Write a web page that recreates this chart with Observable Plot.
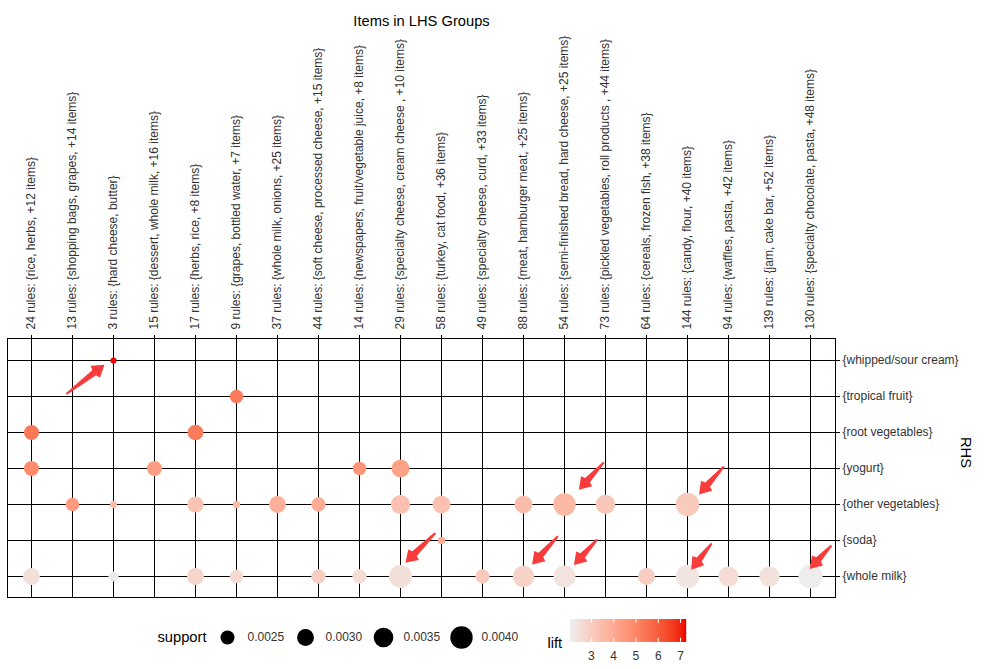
<!DOCTYPE html>
<html>
<head>
<meta charset="utf-8">
<script src="https://cdn.jsdelivr.net/npm/d3@7"></script>
<script src="https://cdn.jsdelivr.net/npm/@observablehq/plot@0.6"></script>
<style>
  body { margin: 0; background: white; }
  #wrap { position: relative; width: 986px; height: 669px; background: white; font-family: "Liberation Sans", Arial, sans-serif; }
  #main, #sizeLeg, #colLeg { position: absolute; }
  #main { left: 0; top: 0; }
  #sizeLeg { left: 0; top: 610px; }
  #colLeg { left: 540px; top: 610px; }
  svg { font-family: "Liberation Sans", Arial, sans-serif; }
</style>
</head>
<body>
<div id="wrap">
  <div id="main"></div>
  <div id="sizeLeg"></div>
  <div id="colLeg"></div>
</div>
<script>
// ---- data ----
const lhsGroups = [
  "24 rules: {rice, herbs, +12 items}",
  "13 rules: {shopping bags, grapes, +14 items}",
  "3 rules: {hard cheese, butter}",
  "15 rules: {dessert, whole milk, +16 items}",
  "17 rules: {herbs, rice, +8 items}",
  "9 rules: {grapes, bottled water, +7 items}",
  "37 rules: {whole milk, onions, +25 items}",
  "44 rules: {soft cheese, processed cheese, +15 items}",
  "14 rules: {newspapers, fruit/vegetable juice, +8 items}",
  "29 rules: {specialty cheese, cream cheese , +10 items}",
  "58 rules: {turkey, cat food, +36 items}",
  "49 rules: {specialty cheese, curd, +33 items}",
  "88 rules: {meat, hamburger meat, +25 items}",
  "54 rules: {semi-finished bread, hard cheese, +25 items}",
  "73 rules: {pickled vegetables, roll products , +44 items}",
  "64 rules: {cereals, frozen fish, +38 items}",
  "144 rules: {candy, flour, +40 items}",
  "94 rules: {waffles, pasta, +42 items}",
  "139 rules: {jam, cake bar, +52 items}",
  "130 rules: {specialty chocolate, pasta, +48 items}"
];
const rhsItems = [
  "{whipped/sour cream}",
  "{tropical fruit}",
  "{root vegetables}",
  "{yogurt}",
  "{other vegetables}",
  "{soda}",
  "{whole milk}"
];
// one entry per drawn dot: LHS group index, RHS item index, support, lift
const ptLhs = [2, 5, 0, 4, 0, 3, 8, 9, 1, 2, 4, 5, 6, 7, 9, 10, 12, 13, 14, 16, 10, 0, 2, 4, 5, 7, 8, 9, 11, 12, 13, 15, 16, 17, 18, 19];
const ptRhs = [0, 1, 2, 2, 3, 3, 3, 3, 4, 4, 4, 4, 4, 4, 4, 4, 4, 4, 4, 4, 5, 6, 6, 6, 6, 6, 6, 6, 6, 6, 6, 6, 6, 6, 6, 6];
const ptSupport = [0.0011, 0.0024, 0.0027, 0.0028, 0.0027, 0.0027, 0.0024, 0.0032,
  0.0024, 0.00125, 0.0029, 0.0013, 0.0030, 0.00255, 0.0034, 0.0032, 0.0032, 0.0040, 0.00345, 0.0042,
  0.0013,
  0.0030, 0.0018, 0.0030, 0.0024, 0.00255, 0.00255, 0.0041, 0.00255, 0.0038, 0.0039, 0.0030, 0.0042, 0.0036, 0.0036, 0.0043];
const ptLift = [7.22, 5.3, 5.4, 5.3, 4.9, 4.4, 4.6, 4.3,
  4.5, 3.6, 3.3, 3.6, 3.9, 4.0, 3.4, 3.4, 3.5, 3.6, 3.2, 3.1,
  4.0,
  2.5, 2.15, 2.8, 2.7, 3.0, 2.6, 2.5, 3.1, 2.9, 2.4, 3.0, 2.35, 2.6, 2.45, 2.1];
// highlight arrows (tail -> tip) in grid units (LHS index, RHS index)
const arrowX1 = [0.85, 13.96, 16.89, 12.84, 13.80, 16.59, 19.51, 9.85];
const arrowY1 = [0.93, 2.83, 2.94, 4.88, 4.97, 5.08, 5.14, 4.79];
const arrowX2 = [1.78, 13.35, 16.28, 12.21, 13.23, 16.09, 18.98, 9.12];
const arrowY2 = [0.12, 3.59, 3.72, 5.67, 5.68, 5.81, 5.79, 5.62];
// legend breaks
const supportBreaks = [0.0025, 0.0030, 0.0035, 0.0040];
const liftBreaks = [3, 4, 5, 6, 7];
const liftDomain = [2.07, 7.22];

// ---- layout / style ----
const colStep = 41, rowStep = 36;            // px per grid unit
const xRange = [6.4, 6.4 + colStep * (lhsGroups.length + 0.2)];
const yRange = [338.4, 338.4 + rowStep * (rhsItems.length + 0.2)];

// ---- build tables ----
const points = ptLhs.map((c, i) => ({lhs: c, rhs: ptRhs[i], support: ptSupport[i], lift: ptLift[i]}));

// filled arrow outlines, built in pixel space around each tail->tip segment, expressed in grid units
const arrowPolys = [];
arrowX1.forEach((x1, k) => {
  const dx = (arrowX2[k] - x1) * colStep, dy = (arrowY2[k] - arrowY1[k]) * rowStep;
  const L = Math.hypot(dx, dy), ux = dx / L, uy = dy / L, nx = -uy, ny = ux;
  const head = 13, prof = [[0, 1], [L - head, 3.2], [L - head + 1.5, 7.5], [L, 0], [L - head + 1.5, -7.5], [L - head, -3.2], [0, -1]];
  prof.forEach(([a, w]) => arrowPolys.push({
    id: k,
    x: x1 + (a * ux + w * nx) / colStep,
    y: arrowY1[k] + (a * uy + w * ny) / rowStep
  }));
});

const colorScale = {type: "linear", domain: liftDomain, range: ["#EEEEEE", "#EE0000"], interpolate: "lab"};
const rScale = {type: "linear", domain: [0, 0.004], range: [0, 11.2]};
const textCol = "#333333";

const main = Plot.plot({
  width: 986,
  height: 610,
  marginLeft: 7,
  marginRight: 151,
  marginTop: 338,
  marginBottom: 13,
  style: {fontFamily: "Liberation Sans, Arial, sans-serif", fontSize: "12px", background: "white"},
  x: {type: "linear", domain: [-0.6, lhsGroups.length - 0.4], range: xRange},
  y: {type: "linear", domain: [-0.6, rhsItems.length - 0.4], range: yRange},
  r: rScale,
  color: colorScale,
  marks: [
    Plot.gridX(d3.range(lhsGroups.length), {stroke: "black", strokeOpacity: 1, strokeWidth: 1}),
    Plot.gridY(d3.range(rhsItems.length), {stroke: "black", strokeOpacity: 1, strokeWidth: 1}),
    Plot.frame({stroke: "black", strokeWidth: 1}),
    Plot.axisX(d3.range(lhsGroups.length), {anchor: "top", tickFormat: i => lhsGroups[i], tickRotate: -90, tickSize: 4, tickPadding: 5, fontSize: 12, fill: textCol, label: null}),
    Plot.axisY(d3.range(rhsItems.length), {anchor: "right", tickFormat: i => rhsItems[i], tickSize: 4, tickPadding: 3, fontSize: 12, fill: textCol, label: null}),
    Plot.dot(points, {x: "lhs", y: "rhs", r: "support", fill: "lift", stroke: "none"}),
    Plot.line(arrowPolys, {x: "x", y: "y", z: "id", fill: "#F83C3C", stroke: "none", curve: "linear-closed"}),
    Plot.text(["Items in LHS Groups"], {frameAnchor: "top", dy: -323, fontSize: 14.7, fill: "black"}),
    Plot.text(["RHS"], {frameAnchor: "right", dx: 130, rotate: 90, fontSize: 14.7, fill: "black"})
  ]
});
document.getElementById("main").appendChild(main);

const sizeLeg = Plot.plot({
  width: 530,
  height: 54,
  margin: 0,
  style: {fontFamily: "Liberation Sans, Arial, sans-serif", background: "transparent"},
  x: {type: "point", domain: supportBreaks, range: [226, 461], padding: 0, axis: null},
  r: rScale,
  marks: [
    Plot.dot(supportBreaks, {x: d => d, r: d => d, fill: "black", stroke: "none", frameAnchor: "middle"}),
    Plot.text(supportBreaks, {x: d => d, text: d => d.toFixed(4), dx: 20, textAnchor: "start", fontSize: 12, fill: textCol, frameAnchor: "middle"}),
    Plot.text(["support"], {frameAnchor: "left", dx: 157, textAnchor: "start", fontSize: 14.7, fill: "black"})
  ]
});
document.getElementById("sizeLeg").appendChild(sizeLeg);

const rampVals = d3.ticks(liftDomain[0], liftDomain[1], 240).concat([liftDomain[0], liftDomain[1]]);
const colLeg = Plot.plot({
  width: 160,
  height: 59,
  margin: 0,
  style: {fontFamily: "Liberation Sans, Arial, sans-serif", background: "transparent"},
  x: {type: "linear", domain: liftDomain, range: [30, 145], axis: null},
  y: {type: "linear", domain: [0, 1], range: [31.7, 9], axis: null},
  color: colorScale,
  marks: [
    Plot.ruleX(rampVals, {x: d => d, y1: 0, y2: 1, stroke: d => d, strokeWidth: 1.2}),
    Plot.ruleX(liftBreaks, {x: d => d, y1: 0, y2: 0.17, stroke: "white", strokeWidth: 1}),
    Plot.ruleX(liftBreaks, {x: d => d, y1: 0.83, y2: 1, stroke: "white", strokeWidth: 1}),
    Plot.text(liftBreaks, {x: d => d, y: 0, dy: 13.5, text: d => String(d), fontSize: 12, fill: textCol}),
    Plot.text(["lift"], {x: () => liftDomain[0], y: () => 0, dx: -23, dy: 1, textAnchor: "start", fontSize: 14.7, fill: "black"})
  ]
});
document.getElementById("colLeg").appendChild(colLeg);
</script>
</body>
</html>
